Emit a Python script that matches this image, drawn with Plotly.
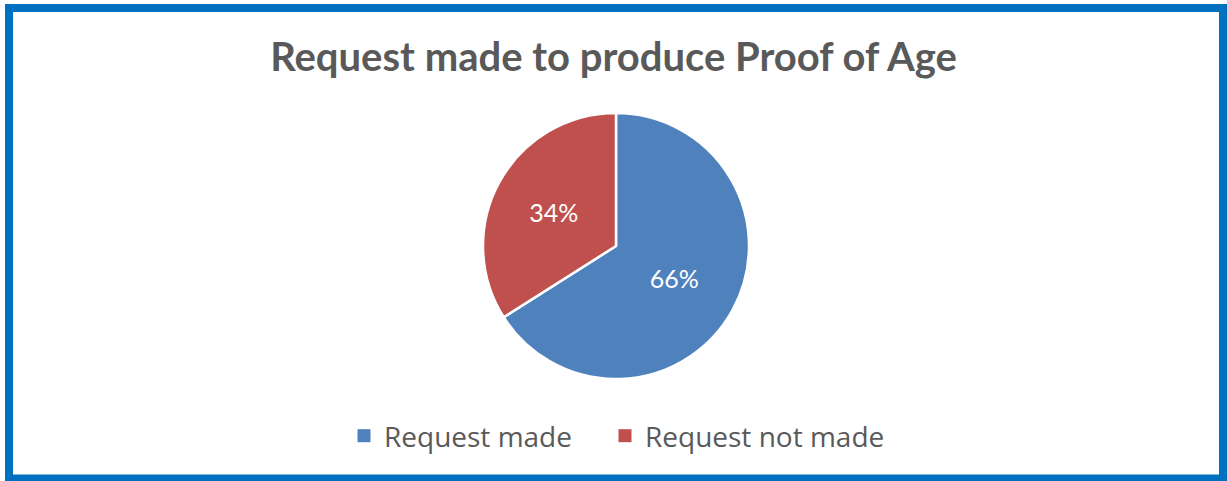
import plotly.graph_objects as go

W, H = 1227, 481

labels = ["Request made", "Request not made"]
values = [66, 34]
colors = ["#4F81BD", "#C0504D"]
title_text = "Request made to produce Proof of Age"

def px(x):
    return x / W

def py(y):
    return 1 - y / H

fig = go.Figure()
fig.add_trace(
    go.Pie(
        labels=labels,
        values=values,
        sort=False,
        direction="clockwise",
        rotation=0,
        marker=dict(colors=colors, line=dict(color="white", width=2.5)),
        textinfo="percent",
        texttemplate="%{percent:.0%}",
        textposition="inside",
        insidetextfont=dict(color="white", size=25, family="Lato"),
        domain=dict(x=[px(483), px(749)], y=[py(379), py(113)]),
        hoverinfo="label+percent",
        showlegend=False,
    )
)

# legend entries as square markers, each in its own legend box
legend_names = ["legend", "legend2"]
for lab, col, lg in zip(labels, colors, legend_names):
    fig.add_trace(
        go.Scatter(
            x=[None],
            y=[None],
            mode="markers",
            name=lab,
            marker=dict(symbol="square", size=13, color=col),
            showlegend=True,
            legend=lg,
        )
    )

legend_common = dict(
    orientation="h",
    xanchor="left",
    y=py(436),
    yanchor="middle",
    font=dict(family="Open Sans", size=28, color="#595959"),
    itemwidth=30,
    bgcolor="rgba(0,0,0,0)",
)

fig.update_layout(
    width=W,
    height=H,
    margin=dict(l=0, r=0, t=0, b=0),
    paper_bgcolor="white",
    plot_bgcolor="white",
    xaxis=dict(visible=False),
    yaxis=dict(visible=False),
    title=dict(
        text="<b>" + title_text + "</b>",
        x=0.5,
        xanchor="center",
        y=py(57),
        yanchor="middle",
        yref="container",
        font=dict(family="Lato", size=40, color="#595959"),
    ),
    legend=dict(x=px(344), **legend_common),
    legend2=dict(x=px(605), **legend_common),
    shapes=[
        dict(
            type="rect",
            xref="paper",
            yref="paper",
            x0=px(9),
            x1=px(1223),
            y0=py(478.5),
            y1=py(8),
            line=dict(color="#0070C0", width=8),
            fillcolor="rgba(0,0,0,0)",
            layer="above",
        )
    ],
)

fig.write_html("out.html")
